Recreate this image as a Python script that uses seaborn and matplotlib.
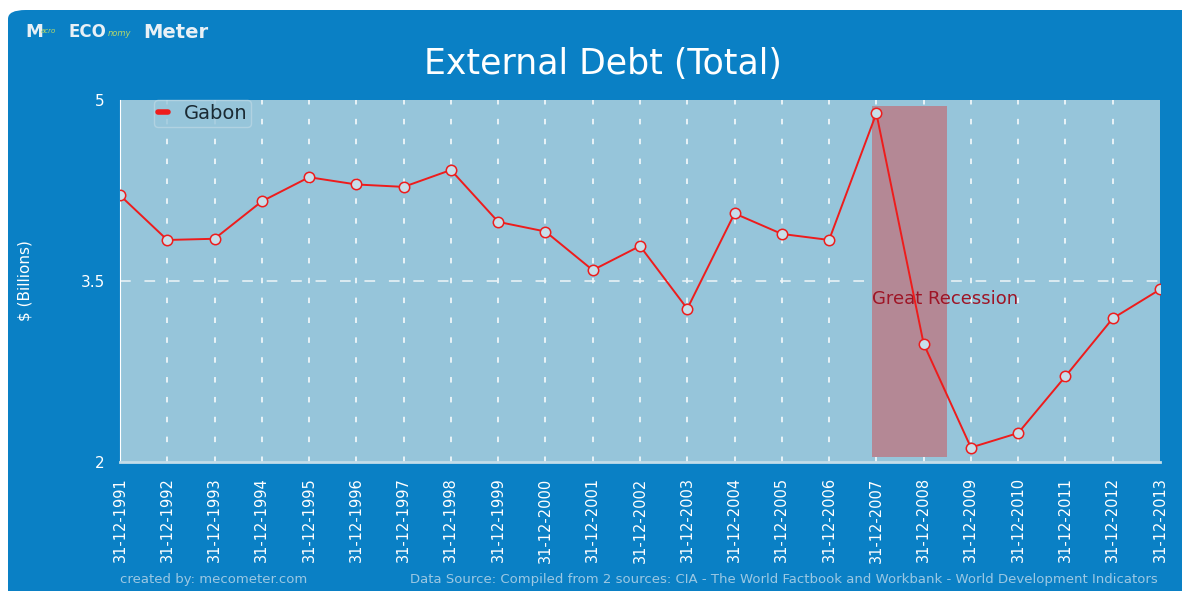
import numpy as np
import pandas as pd
import matplotlib
matplotlib.use("Agg")
import matplotlib.pyplot as plt
import seaborn as sns
from matplotlib.patches import FancyBboxPatch
from matplotlib.lines import Line2D

# data
years = list(range(1991, 2014))
debt = [4.21, 3.84, 3.85, 4.16, 4.36, 4.30, 4.28, 4.42, 3.99, 3.91, 3.59,
        3.79, 3.27, 4.06, 3.89, 3.84, 4.89, 2.98, 2.12, 2.24, 2.71, 3.19, 3.43]
tick_labels = ["31-12-%d" % y for y in years]
country = "Gabon"
recession = (2006.9, 2008.5, 2.04, 4.95)

df = pd.DataFrame({"year": years, "debt": debt})

outer = "#0a80c5"
plot_bg = "#96c5da"

sns.set_style("white")
plt.rcParams['font.family'] = ['DejaVu Sans']

fig = plt.figure(figsize=(11.82, 5.91), dpi=100, facecolor="white")
# outer blue panel
top = 1 - 10 / 591
fig.patches.append(FancyBboxPatch((8 / 1182, -0.05), 1.2, top + 0.05,
                                  boxstyle="round,pad=0,rounding_size=0.015",
                                  transform=fig.transFigure, facecolor=outer,
                                  edgecolor="none", zorder=-5))

ax = fig.add_axes([120 / 1182, 1 - 462 / 591, 1040 / 1182, 362 / 591])
ax.set_facecolor(plot_bg)

# recession band
ax.fill_between([recession[0], recession[1]], recession[2], recession[3],
                color="#b48895", zorder=1, linewidth=0)
ax.text(recession[0], 3.35, "Great Recession", color="#9e1526", fontsize=13,
        ha="left", va="center", zorder=2)

sns.lineplot(data=df, x="year", y="debt", ax=ax, color="#ee1c1c", linewidth=1.4,
             marker="o", markersize=7.5, markerfacecolor="#c8dfea",
             markeredgecolor="#ee1c1c", markeredgewidth=1.1, zorder=3)

ax.set_xlim(1991, 2013)
ax.set_ylim(2, 5)
ax.set_xticks(years)
ax.set_xticklabels(tick_labels, rotation=90, color="white", fontsize=10.5)
ax.set_yticks([2, 3.5, 5])
ax.set_yticklabels(["2", "3.5", "5"], color="white", fontsize=11)
ax.tick_params(axis="both", direction="out", length=5, color="#dde8ee", width=1, pad=6)
ax.set_xlabel("")
ax.set_ylabel("$ (Billions)", color="white", fontsize=11)
ax.yaxis.set_label_coords((33 - 120) / 1040, 0.5)

# dashed grid
for x in years[1:-1]:
    ax.axvline(x, color="white", linestyle=(0, (3.6, 9.4)), linewidth=1.1, zorder=0.5)
ax.axhline(3.5, color="#eef5f8", linestyle=(0, (7, 9)), linewidth=1.1, zorder=0.5)

for s in ["top", "right"]:
    ax.spines[s].set_visible(False)
ax.spines["left"].set_color("white")
ax.spines["bottom"].set_color("#c3dde9")
ax.spines["bottom"].set_linewidth(2)

handle = Line2D([], [], color="#ee1c1c", linewidth=4)
leg = ax.legend([handle], [country], loc="upper left", bbox_to_anchor=(0.033, 1.0),
                borderaxespad=0, fontsize=14, frameon=True, fancybox=True,
                handlelength=0.5, handletextpad=0.8, borderpad=0.2)
leg.get_frame().set_facecolor(plot_bg)
leg.get_frame().set_edgecolor("#b8d6e4")
leg.get_texts()[0].set_color("#1a2a33")

# titles and footers
fig.text(603 / 1182, 1 - 64 / 591, "External Debt (Total)", color="white",
         fontsize=25, ha="center", va="center")
fig.text(25 / 1182, 1 - 32 / 591, "M", color="#e8f0f6", fontsize=13,
         fontweight="bold", ha="left", va="center")
fig.text(41 / 1182, 1 - 31 / 591, "acro", color="#b5d96a", fontsize=5,
         ha="left", va="center", style="italic")
fig.text(68 / 1182, 1 - 32 / 591, "ECO", color="#e8f0f6", fontsize=12,
         fontweight="bold", ha="left", va="center")
fig.text(108 / 1182, 1 - 34 / 591, "nomy", color="#b5d96a", fontsize=6,
         ha="left", va="center", style="italic")
fig.text(143 / 1182, 1 - 32 / 591, "Meter", color="#e8f0f6", fontsize=14,
         fontweight="bold", ha="left", va="center")
fig.text(120 / 1182, 1 - 579 / 591, "created by: mecometer.com", color="#9cc8e3",
         fontsize=9.5, ha="left", va="center")
fig.text(1158 / 1182, 1 - 579 / 591,
         "Data Source: Compiled from 2 sources: CIA - The World Factbook and Workbank - World Development Indicators",
         color="#9cc8e3", fontsize=9.5, ha="right", va="center")

fig.savefig("out.png", dpi=100, facecolor=fig.get_facecolor())
